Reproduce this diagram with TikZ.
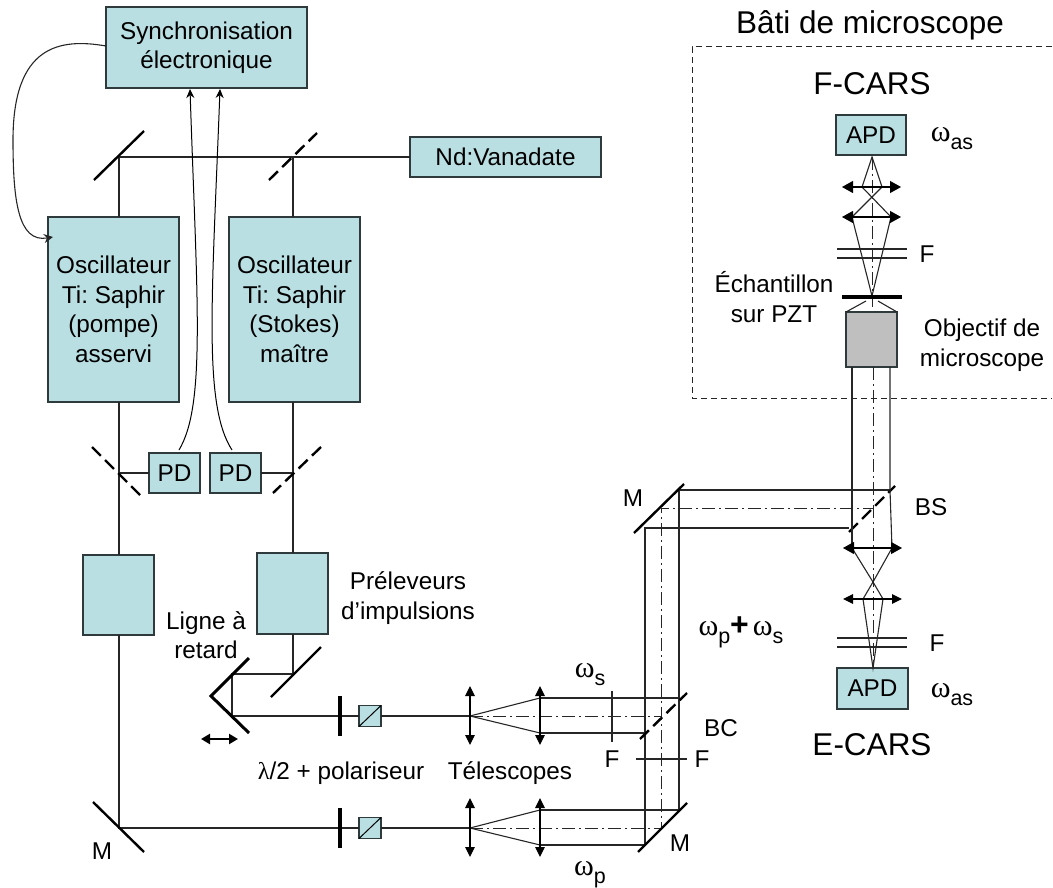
\documentclass[tikz,border=0pt]{standalone}
\usepackage{fontspec}
\setmainfont{Liberation Sans}
\newfontfamily\symf{Liberation Serif}
\usetikzlibrary{arrows.meta,calc}
\definecolor{boxfill}{HTML}{B9DFE3}
\definecolor{boxline}{HTML}{2F3A3C}
\newcommand{\omsub}[1]{{\symf\fontsize{30}{30}\selectfont ω}\raisebox{-8pt}{\fontsize{21.5}{21.5}\selectfont #1}}
\tikzset{
  x=1pt,y=-1pt,
  every node/.style={inner sep=0pt,outer sep=0pt,font=\fontsize{24.3}{29.5}\selectfont\frenchspacing,align=center},
  opt/.style={draw=boxline,line width=1.2pt,fill=boxfill},
  beam/.style={line width=1.1pt,draw=black!85},
  axis/.style={line width=1pt,draw=black!85,dash pattern=on 13pt off 4pt on 2pt off 4pt},
  mirror/.style={line width=2.4pt},
  dmirror/.style={line width=2.4pt,dash pattern=on 12.5pt off 6pt},
  plate/.style={line width=3.4pt},
  lens/.style={line width=1.1pt,{Triangle[length=10pt,width=9.5pt]}-{Triangle[length=10pt,width=9.5pt]}},
  bigtip/.style={line width=1.1pt,{Triangle[length=11pt,width=12pt]}-{Triangle[length=11pt,width=12pt]}},
  sig/.style={line width=1pt,-{Stealth[length=9pt,width=8pt]}},
  bigtext/.style={font=\fontsize{31.5}{36}\selectfont},
}
\begin{document}
\begin{tikzpicture}
\useasboundingbox (0,0) rectangle (1053,888);
% boxes
\node[opt,minimum width=201pt,minimum height=81pt] (sync) at (206.5,47.5) {Synchronisation\\électronique};
\node[opt,minimum width=191pt,minimum height=40pt] (vana) at (505.5,157) {Nd:Vanadate};
\node[opt,minimum width=131pt,minimum height=185pt] (osc1) at (113.5,309.5) {Oscillateur\\Ti: Saphir\\(pompe)\\asservi};
\node[opt,minimum width=131pt,minimum height=185pt] (osc2) at (294.5,309.5) {Oscillateur\\Ti: Saphir\\(Stokes)\\maître};
\node[opt,minimum width=51pt,minimum height=40pt] (pd1) at (174.5,473) {PD};
\node[opt,minimum width=51pt,minimum height=40pt] (pd2) at (235.5,473) {PD};
\node[opt,minimum width=71pt,minimum height=80pt] (pick1) at (118.5,595) {};
\node[opt,minimum width=71pt,minimum height=81pt] (pick2) at (292.5,593.5) {};
\node[opt,minimum width=70pt,minimum height=40pt] (apdT) at (871,135) {APD};
\node[opt,minimum width=71pt,minimum height=41pt] (apdB) at (872.5,688.5) {APD};
\node[draw=boxline,line width=1.2pt,fill=black!25,minimum width=51pt,minimum height=55pt] (obj) at (871.5,339.5) {};
\node[opt,minimum width=22pt,minimum height=21pt] (cube1) at (370,716) {};
\node[opt,minimum width=22pt,minimum height=21pt] (cube2) at (370,828) {};
\draw[line width=1pt] (cube1.south west) -- (cube1.north east);
\draw[line width=1pt] (cube2.south west) -- (cube2.north east);
% named points
\coordinate (mA) at (119,157);
\coordinate (mB) at (293,157);
\coordinate (sA) at (119,473);
\coordinate (sB) at (293,473);
\coordinate (mC) at (119,828);
\coordinate (mD) at (293,674);
\coordinate (rA) at (232,674);
\coordinate (rB) at (232,716);
\coordinate (lA) at (470,716);
\coordinate (lB) at (470,828);
\coordinate (tA1) at (540,698);
\coordinate (tA2) at (540,733);
\coordinate (tB1) at (540,810);
\coordinate (tB2) at (540,845);
% dashed frame
\draw[line width=1pt,draw=black!85,dash pattern=on 6pt off 4pt] (1052,47) -- (692,47) -- (692,398) -- (1052,398);
% pump line
\draw[beam] (vana.west) -- (mA) -- (mA |- osc1.north);
\draw[beam] (mB) -- (mB |- osc2.north);
\draw[beam] (mA |- osc1.south) -- (mA |- pick1.north);
\draw[beam] (mA |- pick1.south) -- (mC) -- (cube2.west);
\draw[beam] (mB |- osc2.south) -- (mB |- pick2.north);
\draw[beam] (mB |- pick2.south) -- (mD) -- (rA) -- (rB) -- (cube1.west);
\draw[beam] (pd1.west) -- (sA);
\draw[beam] (pd2.east) -- (sB);
\draw[beam] (cube1.east) -- (lA);
\draw[beam] (cube2.east) -- (lB);
% mirrors
\draw[mirror] (94,180) -- (144,131);
\draw[dmirror] (269,180) -- (317,133);
\draw[dmirror] (92,447) -- (140,495);
\draw[dmirror] (321,447) -- (273,493);
\draw[mirror] (93,802) -- (144,852);
\draw[mirror] (271,697) -- (321,647);
\draw[line width=3pt,line join=miter] (249,658) -- (211,696) -- (249,733);
\draw[line width=2.4pt,{Triangle[length=9pt,width=10pt]}-{Triangle[length=9pt,width=10pt]}] (201,739) -- (238,739);
\draw[plate] (340,696) -- (340,736);
\draw[plate] (340,808) -- (340,848);
% signals
\draw[beam,-{Stealth[length=9pt,width=9pt]}] (sync.west |- 0,46) .. controls (60,38) and (13,45) .. (13,140) .. controls (13,200) and (18,243) .. (53,237);
\draw[sig] ($(pd1.north)+(4.5,-3)$) .. controls (206,405) and (197,300) .. (190,89);
\draw[sig] ($(pd2.north)+(-3.5,-3)$) .. controls (203,405) and (212,300) .. (220,89);
% telescopes
\draw[beam] (tA1) -- (lA) -- (tA2);
\draw[beam] (tB1) -- (lB) -- (tB2);
\draw[beam] (tA1) -- (679,698);
\draw[beam] (tA2) -- (645,733);
\draw[beam] (tB1) -- (679,810);
\draw[beam] (tB2) -- (645,845);
\draw[axis] (lA) -- (661,716);
\draw[axis] (lB) -- (661,828) -- (661,508) -- (873,508);
\draw[beam] (645,845) -- (645,528) -- (849,528);
\draw[beam] (679,810) -- (679,490) -- (890,490);
\draw[lens] (470,686) -- (470,745);
\draw[lens] (540,686) -- (540,745);
\draw[lens] (470,798) -- (470,857);
\draw[lens] (540,798) -- (540,857);
\draw[beam] (612,691) -- (612,742);
\draw[beam] (636,759) -- (687,759);
\draw[dmirror] (640,739) -- (687,693);
\draw[mirror] (638,852) -- (687,803);
\draw[mirror] (634,533) -- (684,484);
\draw[dmirror] (849,532) -- (895,486);
% microscope column
\draw[beam] (852,367) -- (852,548);
\draw[beam] (890,367) -- (890,490) -- (892,548);
\draw[axis] (873,367) -- (873,668);
\draw[beam] (852,548) -- (873,582) -- (892,548);
\draw[beam] (863,599) -- (873,582) -- (883,599);
\draw[beam] (863,599) -- (873,668) -- (883,599);
\draw[beam] (837,638) -- (907,638);
\draw[beam] (837,647) -- (907,647);
\draw[bigtip] (843,548) -- (902,548);
\draw[lens] (843,599) -- (902,599);
% F-CARS arm
\draw[axis] (872,157) -- (872,307);
\draw[beam] (862,187) -- (872,157) -- (882,187);
\draw[beam] (862,187) -- (891,217) -- (872,296) -- (852,217) -- (882,187);
\draw[bigtip] (842,187) -- (901,187);
\draw[bigtip] (842,217) -- (901,217);
\draw[beam] (837,249) -- (907,249);
\draw[beam] (837,258) -- (907,258);
\draw[beam] (obj.north west) -- (866,301);
\draw[beam] (obj.north east) -- (878,301);
\draw[line width=3.2pt] (842,297) -- (902,297);
% labels
\node[bigtext] (t1) at (870,25) {Bâti de microscope};
\node[bigtext] (t2) at (872,84) {F-CARS};
\node[bigtext] (t3) at (872,745) {E-CARS};
\node (t4) at (774,297) {Échantillon\\sur PZT};
\node (t5) at (982,345) {Objectif de\\microscope};
\node (t6) at (927,254) {F};
\node (t7) at (937,643) {F};
\node (t8) at (612,759) {F};
\node (t9) at (702,759) {F};
\node (t10) at (633,498) {M};
\node (t11) at (680,843) {M};
\node (t12) at (102,851) {M};
\node (t13) at (931,507) {BS};
\node (t14) at (721,728) {BC};
\node (t15) at (206,635) {Ligne à\\retard};
\node (t16) at (408,598) {Préleveurs\\d’impulsions};
\node (t17) at (341,773) {{\symf λ}/2 + polariseur};
\node (t18) at (510,773) {Télescopes};
\node (t19) at (952,139) {\omsub{as}};
\node (t20) at (952,695) {\omsub{as}};
\node (t21) at (590,675) {\omsub{s}};
\node (t22) at (590,875) {\omsub{p}};
\node (t23) at (741,632) {\omsub{p}{\fontsize{32}{32}\selectfont\bfseries +}\,\omsub{s}};
\end{tikzpicture}
\end{document}
